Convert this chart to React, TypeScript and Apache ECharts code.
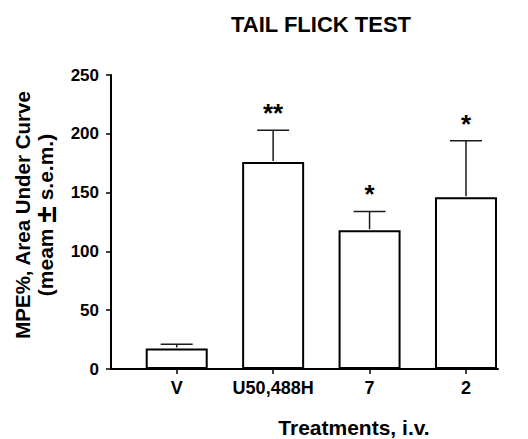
import React, { useEffect, useRef } from "react";
import * as echarts from "echarts";

const categories = ["V", "U50,488H", "7", "2"];
const means = [17.5, 176, 118, 146];
const sems = [3.5, 27, 16, 48];
const significance = ["", "**", "*", "*"];
const yTicks = { min: 0, max: 250, interval: 50 };

const FONT = "'Liberation Sans', Arial, Helvetica, sans-serif";

export default function App() {
  const ref = useRef<HTMLDivElement>(null);
  useEffect(() => {
    if (!ref.current) return;
    const chart = echarts.init(ref.current, undefined, { renderer: "svg" });
    const errData = categories.map((c, i) => [i, means[i], sems[i]]);
    chart.setOption({
      animation: false,
      backgroundColor: "#ffffff",
      textStyle: { fontFamily: FONT },
      grid: [
        { left: 128.5, right: 13.8, top: 75, bottom: 70 },
        { left: 111, right: 30, top: 75, bottom: 70 },
      ],
      xAxis: [
        {
          type: "category",
          gridIndex: 0,
          data: categories,
          axisLine: { show: false },
          axisTick: {
            show: true,
            alignWithLabel: true,
            length: 5,
            lineStyle: { color: "#000", width: 1.5 },
          },
          axisLabel: {
            interval: 0,
            color: "#000",
            fontWeight: "bold",
            fontSize: 18,
            fontFamily: FONT,
            margin: 10,
          },
          splitLine: { show: false },
        },
        {
          type: "value",
          gridIndex: 1,
          min: 0,
          max: 1,
          axisLine: { show: true, onZero: false, lineStyle: { color: "#000", width: 2 } },
          axisTick: { show: false },
          axisLabel: { show: false },
          splitLine: { show: false },
        },
      ],
      yAxis: [
        {
          type: "value",
          gridIndex: 0,
          min: yTicks.min,
          max: yTicks.max,
          interval: yTicks.interval,
          show: false,
          splitLine: { show: false },
        },
        {
          type: "value",
          gridIndex: 1,
          min: yTicks.min,
          max: yTicks.max,
          interval: yTicks.interval,
          axisLine: { show: true, lineStyle: { color: "#000", width: 2 } },
          axisTick: { show: true, length: 5, lineStyle: { color: "#000", width: 1.5 } },
          axisLabel: {
            color: "#000",
            fontWeight: "bold",
            fontSize: 17,
            fontFamily: FONT,
            margin: 12,
          },
          splitLine: { show: false },
        },
      ],
      series: [
        {
          type: "bar",
          xAxisIndex: 0,
          yAxisIndex: 0,
          data: means,
          barWidth: 62,
          itemStyle: { color: "#ffffff", borderColor: "#000", borderWidth: 2 },
        },
        {
          type: "custom",
          xAxisIndex: 0,
          yAxisIndex: 0,
          data: errData,
          encode: { x: 0, y: 1 },
          z: 3,
          renderItem: (params: any, api: any) => {
            const i = api.value(0);
            const m = api.value(1);
            const e = api.value(2);
            const base = api.coord([i, m]);
            const up = api.coord([i, m + e]);
            const half = 16;
            return {
              type: "group",
              children: [
                {
                  type: "line",
                  shape: { x1: up[0], y1: base[1] - 1, x2: up[0], y2: up[1] },
                  style: { stroke: "#1a1a1a", lineWidth: 1.5 },
                },
                {
                  type: "line",
                  shape: { x1: up[0] - half, y1: up[1], x2: up[0] + half, y2: up[1] },
                  style: { stroke: "#1a1a1a", lineWidth: 1.5 },
                },
                {
                  type: "text",
                  style: {
                    text: significance[params.dataIndex],
                    x: up[0],
                    y: up[1] - 4,
                    align: "center",
                    verticalAlign: "bottom",
                    fontSize: 26,
                    fontWeight: "bold",
                    fontFamily: FONT,
                    fill: "#000",
                  },
                },
              ],
            };
          },
        },
      ],
      graphic: [
        {
          type: "text",
          x: 321,
          y: 24,
          style: {
            text: "TAIL FLICK TEST",
            align: "center",
            verticalAlign: "middle",
            fontSize: 22,
            fontWeight: "bold",
            fontFamily: FONT,
            fill: "#000",
          },
        },
        {
          type: "text",
          x: 22,
          y: 215,
          rotation: Math.PI / 2,
          style: {
            text: "MPE%, Area Under Curve",
            align: "center",
            verticalAlign: "middle",
            fontSize: 20.5,
            fontWeight: "bold",
            fontFamily: FONT,
            fill: "#000",
          },
        },
        {
          type: "text",
          x: 45,
          y: 215,
          rotation: Math.PI / 2,
          style: {
            text: "(meam {pm|\u00B1} s.e.m.)",
            align: "center",
            verticalAlign: "middle",
            fontSize: 21,
            fontWeight: "bold",
            fontFamily: FONT,
            fill: "#000",
            rich: {
              pm: {
                fontSize: 30,
                fontWeight: 900,
                fontFamily: FONT,
                fill: "#000",
              },
            },
          },
        },
        {
          type: "text",
          x: 354,
          y: 427,
          style: {
            text: "Treatments, i.v.",
            align: "center",
            verticalAlign: "middle",
            fontSize: 21,
            fontWeight: "bold",
            fontFamily: FONT,
            fill: "#000",
          },
        },
      ],
    });
    return () => chart.dispose();
  }, []);
  return (
    <div
      ref={ref}
      style={{ position: "fixed", left: 0, top: 0, width: 528, height: 439 }}
    />
  );
}
